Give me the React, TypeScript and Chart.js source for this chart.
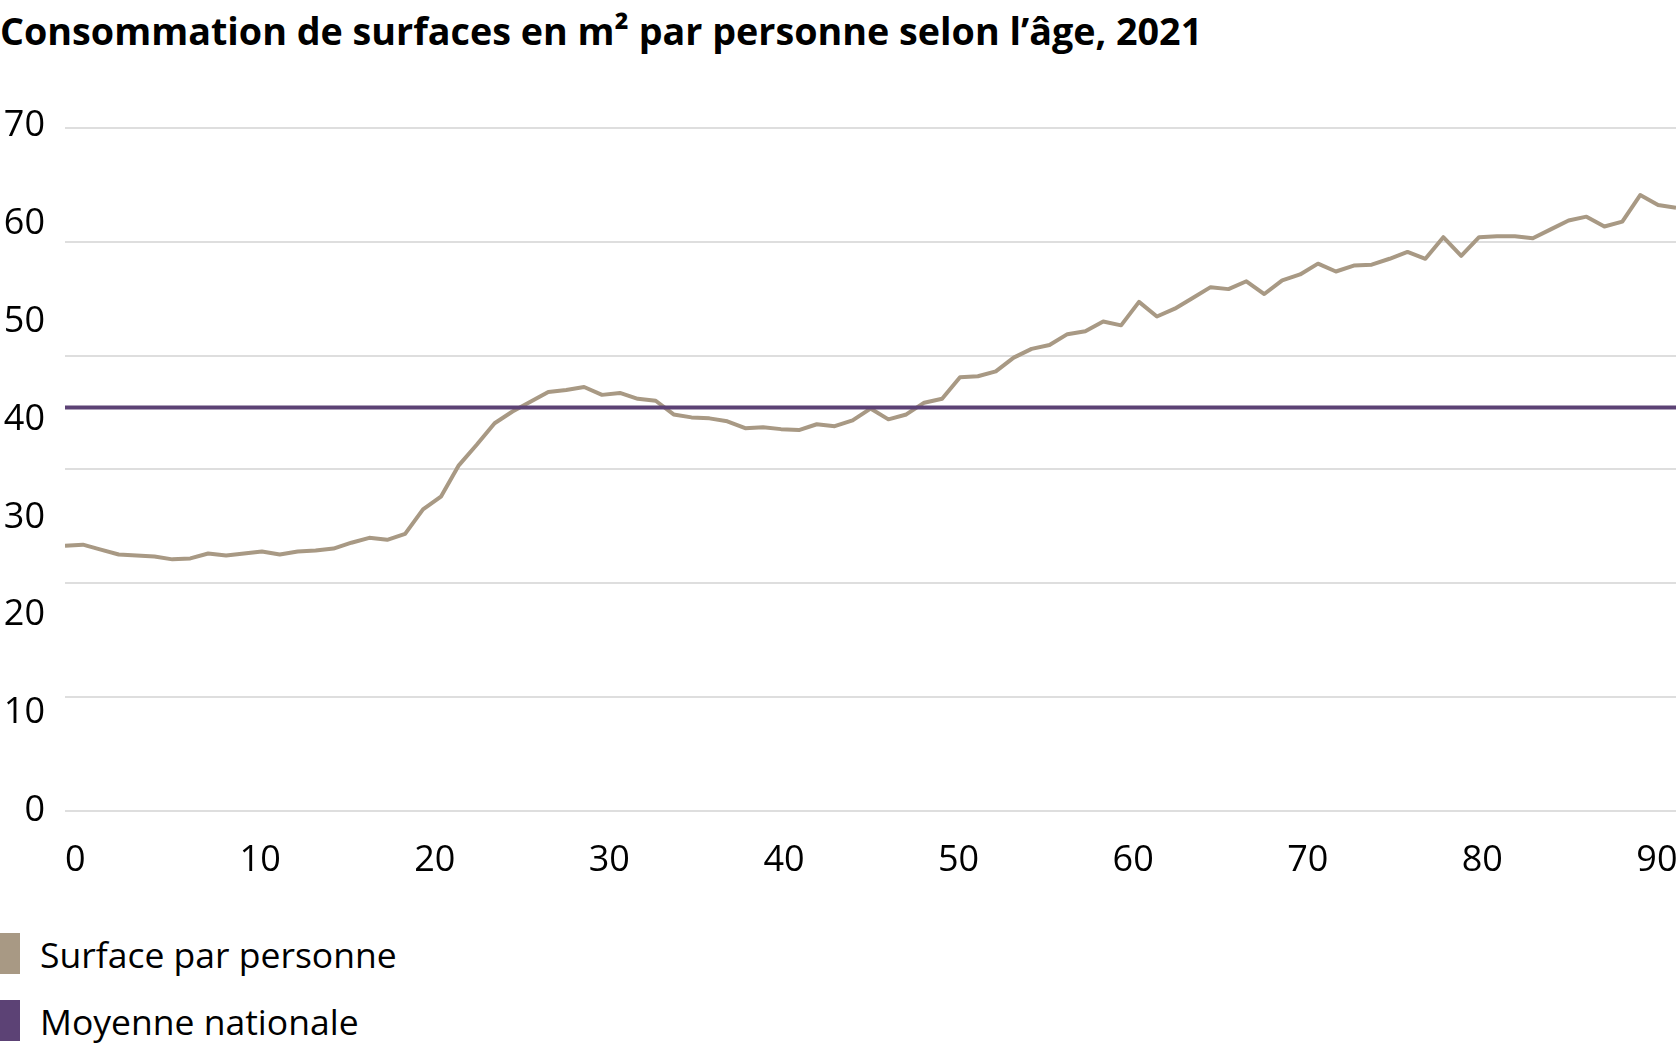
import React, { useEffect, useRef } from "react";
import { Chart, registerables } from "chart.js";

Chart.register(...registerables);

const TITLE = "Consommation de surfaces en m² par personne selon l’âge, 2021";
const SERIES_NAMES = ["Surface par personne", "Moyenne nationale"];
const SERIES_COLORS = ["#a89984", "#5c4275"];
const GRID_COLOR = "#dedede";

const AGES = [
  0, 1, 2, 3, 4, 5, 6, 7, 8, 9, 10, 11, 12, 13, 14, 15, 16, 17, 18, 19, 20, 21, 22, 23, 24, 25, 26, 27, 28, 29,
  30, 31, 32, 33, 34, 35, 36, 37, 38, 39, 40, 41, 42, 43, 44, 45, 46, 47, 48, 49, 50, 51, 52, 53, 54, 55, 56, 57, 58, 59,
  60, 61, 62, 63, 64, 65, 66, 67, 68, 69, 70, 71, 72, 73, 74, 75, 76, 77, 78, 79, 80, 81, 82, 83, 84, 85, 86, 87, 88, 89,
  90,
];

const SURFACE = [
  27.1, 27.2, 26.7, 26.2, 26.1, 26.0, 25.7, 25.8, 26.3, 26.1,
  26.3, 26.5, 26.2, 26.5, 26.6, 26.8, 27.4, 27.9, 27.7, 28.3,
  30.8, 32.1, 35.3, 37.4, 39.6, 40.8, 41.8, 42.8, 43.0, 43.3,
  42.5, 42.7, 42.1, 41.9, 40.5, 40.2, 40.1, 39.8, 39.1, 39.2,
  39.0, 38.9, 39.5, 39.3, 39.9, 41.1, 40.0, 40.5, 41.7, 42.1,
  44.3, 44.4, 44.9, 46.3, 47.2, 47.6, 48.7, 49.0, 50.0, 49.6,
  52.0, 50.5, 51.3, 52.4, 53.5, 53.3, 54.1, 52.8, 54.2, 54.8,
  55.9, 55.1, 55.7, 55.8, 56.4, 57.1, 56.4, 58.6, 56.7, 58.6,
  58.7, 58.7, 58.5, 59.4, 60.3, 60.7, 59.7, 60.2, 62.9, 61.9,
  61.6,
];

const NATIONAL_AVERAGE = 41.2;

const Y_TICKS = [0, 10, 20, 30, 40, 50, 60, 70];
const GRID_TICKS = [0, 10, 20, 30, 40, 50, 60];
const X_TICKS = [0, 10, 20, 30, 40, 50, 60, 70, 80, 90];

const FONT = "'Open Sans', 'Noto Sans', sans-serif";

export default function App() {
  const canvasRef = useRef<HTMLCanvasElement | null>(null);

  useEffect(() => {
    const canvas = canvasRef.current;
    if (!canvas) return;
    Chart.defaults.font.family = FONT;

    const surfacePoints = AGES.map((a, i) => ({ x: a, y: SURFACE[i] }));
    const avgPoints = [
      { x: AGES[0], y: NATIONAL_AVERAGE },
      { x: AGES[AGES.length - 1], y: NATIONAL_AVERAGE },
    ];

    const chart = new Chart(canvas, {
      type: "line",
      data: {
        datasets: [
          {
            label: SERIES_NAMES[1],
            data: avgPoints,
            borderColor: SERIES_COLORS[1],
            backgroundColor: SERIES_COLORS[1],
            borderWidth: 4,
            pointRadius: 0,
            tension: 0,
            xAxisID: "x",
            yAxisID: "y",
          },
          {
            label: SERIES_NAMES[0],
            data: surfacePoints,
            borderColor: SERIES_COLORS[0],
            backgroundColor: SERIES_COLORS[0],
            borderWidth: 4,
            pointRadius: 0,
            tension: 0,
            borderJoinStyle: "round",
            xAxisID: "x",
            yAxisID: "y",
          },
        ],
      },
      options: {
        animation: false,
        responsive: false,
        maintainAspectRatio: false,
        devicePixelRatio: 1,
        layout: { padding: { top: 45.6, bottom: 17.8, left: 0, right: 0 } },
        plugins: {
          legend: { display: false },
          tooltip: { enabled: false },
          title: { display: false },
        },
        scales: {
          x: {
            type: "linear",
            min: AGES[0],
            max: AGES[AGES.length - 1],
            display: false,
          },
          xl: {
            type: "linear",
            position: "bottom",
            min: 0,
            max: 92.27,
            grid: { display: false, drawTicks: false },
            border: { display: false },
            afterBuildTicks: (s: any) => {
              s.ticks = X_TICKS.map((v) => ({ value: v }));
            },
            afterFit: (s: any) => {
              s.height = 71.2;
              s.paddingLeft = 0;
              s.paddingRight = 0;
            },
            ticks: {
              padding: 28,
              align: "start",
              autoSkip: false,
              maxRotation: 0,
              color: "#000",
              font: { size: 36, family: FONT },
              callback: (v: any) => String(v),
            },
          },
          y: {
            type: "linear",
            position: "left",
            min: 0,
            max: 70,
            grid: { display: false, drawTicks: false },
            border: { display: false },
            afterBuildTicks: (s: any) => {
              s.ticks = Y_TICKS.map((v) => ({ value: v }));
            },
            afterFit: (s: any) => {
              s.width = 65;
              s.paddingTop = 0;
              s.paddingBottom = 0;
            },
            ticks: {
              padding: 20,
              color: "#000",
              font: { size: 36, family: FONT },
              callback: (v: any) => String(v),
            },
          },
          yg: {
            type: "linear",
            position: "left",
            min: 0,
            max: 60.2,
            grid: { display: true, color: GRID_COLOR, lineWidth: 2, drawTicks: false },
            border: { display: false },
            afterBuildTicks: (s: any) => {
              s.ticks = GRID_TICKS.map((v) => ({ value: v }));
            },
            afterFit: (s: any) => {
              s.width = 0;
              s.paddingTop = 0;
              s.paddingBottom = 0;
            },
            ticks: { display: false },
          },
        },
      },
    });

    return () => {
      chart.destroy();
    };
  }, []);

  return (
    <div
      style={{
        position: "absolute",
        left: 0,
        top: 0,
        width: 1676,
        height: 1048,
        background: "#fff",
        overflow: "hidden",
        fontFamily: FONT,
        color: "#000",
      }}
    >
      <div
        style={{
          position: "absolute",
          left: 0,
          top: 11.5,
          fontWeight: 700,
          fontSize: 37.7,
          lineHeight: "37.7px",
          whiteSpace: "nowrap",
        }}
      >
        {TITLE}
      </div>
      <canvas
        ref={canvasRef}
        width={1676}
        height={820}
        style={{ position: "absolute", left: 0, top: 80, width: 1676, height: 820 }}
      />
      {SERIES_NAMES.map((name, i) => (
        <div key={name}>
          <div
            style={{
              position: "absolute",
              left: 0,
              top: i === 0 ? 933 : 1000,
              width: 20,
              height: 41,
              background: SERIES_COLORS[i],
            }}
          />
          <div
            style={{
              position: "absolute",
              left: 40,
              top: i === 0 ? 936.8 : 1003.5,
              fontSize: 35.5,
              lineHeight: "35.5px",
              whiteSpace: "nowrap",
            }}
          >
            {name}
          </div>
        </div>
      ))}
    </div>
  );
}
